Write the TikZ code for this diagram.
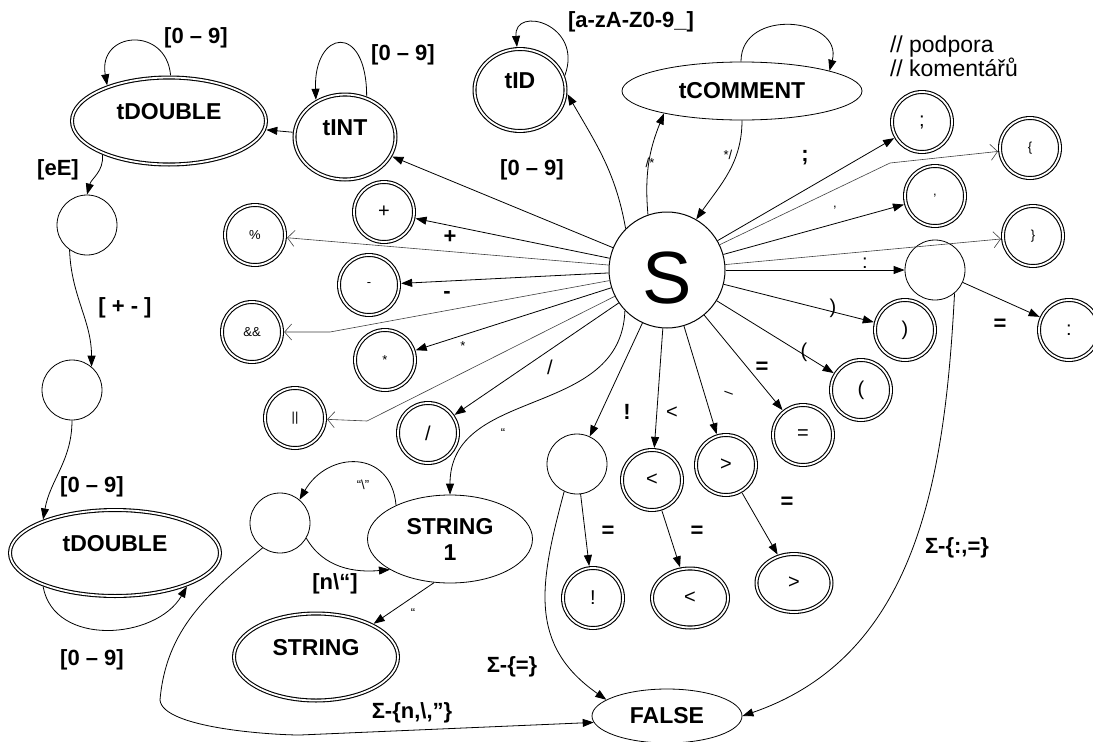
\documentclass[tikz,border=0pt]{standalone}
\usepackage{fontspec}
\setmainfont{Liberation Sans}
\usetikzlibrary{arrows.meta,shapes.geometric}
\newcommand\fstate{\fontsize{23}{26}\selectfont\bfseries}
\newcommand\flab{\fontsize{22}{25}\selectfont\bfseries}
\newcommand\fsym{\fontsize{20}{22}\selectfont}
\newcommand\fsmall{\fontsize{13}{15}\selectfont}
\newcommand\fcmt{\fontsize{23}{23}\selectfont}
\begin{document}
\begin{tikzpicture}[x=1pt,y=1pt,
  every node/.style={inner sep=0pt,outer sep=0pt},
  dst/.style={draw,double,double distance=1.8pt,line width=1.1pt,outer sep=2.2pt},
  dcirc/.style={dst,circle,minimum size=60pt,font=\fsym},
  dell/.style={dst,ellipse,font=\fstate},
  pcirc/.style={draw,circle,line width=0.8pt,minimum size=60pt,outer sep=0.4pt},
  pell/.style={draw,ellipse,line width=0.8pt,outer sep=0.4pt,font=\fstate},
  upper/.style={text height=17pt,text depth=20.4pt},
  arr/.style={line width=0.8pt,-{Triangle[length=11pt,width=8pt]}},
  oarr/.style={line width=0.6pt,draw=black!75,-{Straight Barb[length=7pt,width=16pt,line width=0.6pt]}},
  lab/.style={font=\flab},
  sym/.style={font=\fsym},
  sml/.style={font=\fsmall},
]
\useasboundingbox (0,0) rectangle (1093,-742);
\fill[white] (0,0) rectangle (1093,-742);
\clip (0,0) rectangle (1093,-742);

% ---------- states ----------
\node[draw,circle,line width=1pt,minimum size=116pt,outer sep=0.5pt,
      font=\fontsize{74}{80}\selectfont,text height=67pt,text depth=0pt] (S) at (667,-270) {S};
\node[dell,minimum width=194pt,minimum height=87pt,upper] (dbl1) at (169,-121) {tDOUBLE};
\node[dell,minimum width=101pt,minimum height=85pt,upper] (tint) at (345,-137) {tINT};
\node[dell,minimum width=91pt,minimum height=82pt,upper] (tid) at (520,-90) {tID};
\node[pell,minimum width=240pt,minimum height=58pt] (tcom) at (742,-91) {tCOMMENT};
\node[dell,minimum width=210pt,minimum height=86pt,upper] (dbl2) at (115,-553) {tDOUBLE};
\node[pell,minimum width=165pt,minimum height=88pt,align=center] (str1) at (450,-539) {STRING\\1};
\node[dell,minimum width=164pt,minimum height=87pt,upper] (str) at (316,-657) {STRING};
\node[pell,minimum width=150pt,minimum height=54pt] (false) at (667,-716) {FALSE};

\node[pcirc] (q1) at (87,-225) {};
\node[pcirc] (q2) at (72,-390) {};
\node[pcirc] (strq) at (280,-523) {};
\node[pcirc] (colq) at (935,-270) {};
\node[pcirc] (exq) at (577,-464) {};

\node[dcirc] (plus) at (384,-212) {+};
\node[dcirc,font=\fsmall] (pct) at (255,-235) {\%};
\node[dcirc,font=\fsmall] (minus) at (369,-285) {-};
\node[dcirc,font=\fsmall] (and) at (252,-332) {\&\&};
\node[dcirc,font=\fsmall] (star) at (385,-360) {*};
\node[dcirc,font=\fsmall] (or) at (295,-418) {||};
\node[dcirc] (slash) at (428,-433) {/};
\node[dcirc] (semi) at (922,-122) {;};
\node[dcirc,font=\fsmall] (lbrace) at (1030,-148) {\{};
\node[dcirc,font=\fsmall] (comma) at (935,-196) {,};
\node[dcirc,font=\fsmall] (rbrace) at (1033,-236) {\}};
\node[dcirc] (rpar) at (905,-330) {)};
\node[dcirc] (lpar) at (861,-390) {(};
\node[dcirc] (colon) at (1069,-330) {:};
\node[dcirc] (eq) at (803,-435) {=};
\node[dcirc] (gt) at (726,-465) {>};
\node[dcirc] (lt) at (652,-480) {<};
\node[dcirc] (exf) at (593,-598) {!};
\node[dst,ellipse,minimum width=76pt,minimum height=59pt,font=\fsym] (ltf) at (690,-598) {<};
\node[dst,ellipse,minimum width=75pt,minimum height=58pt,font=\fsym] (gtf) at (794,-583) {>};

\node[font=\fcmt,anchor=base west] (cmt1) at (890,-52) {// podpora};
\node[font=\fcmt,anchor=base west] (cmt2) at (890,-76) {// komentářů};

\coordinate (kand) at (330,-332);
\coordinate (kor) at (367,-421);
\coordinate (kbr) at (890,-163);
\coordinate (kf) at (160,-700);
\coordinate (kg) at (300,-735);

% ---------- edges from S ----------
\draw[arr] (S) -- (tint);
\draw[arr] (S) -- (plus);
\draw[arr] (S) -- (minus);
\draw[arr] (S) -- (star);
\draw[arr] (S) -- (slash);
\draw[arr] (S) -- (exq);
\draw[arr] (S) -- (lt);
\draw[arr] (S) -- (gt);
\draw[arr] (S) -- (eq);
\draw[arr] (S) -- (lpar);
\draw[arr] (S) -- (rpar);
\draw[arr] (S) -- (colq);
\draw[arr] (S) -- (comma);
\draw[arr] (S) -- (semi);
\draw[oarr] (S) -- (pct);
\draw[oarr] (S) -- (kand) -- (and);
\draw[oarr] (S) -- (kor) -- (or);
\draw[oarr] (S) -- (kbr) -- (lbrace);
\draw[oarr] (S) -- (rbrace);
\draw[arr] (S.135) to[out=100,in=-60] (tid.-5);
\draw[arr] (S.109) to[out=95,in=-112] (tcom.196);
\draw[arr] (tcom.south) to[out=-90,in=55] (S.60);
\draw[arr] (S.224) to[out=-92,in=90,looseness=1.1] (str1.north);

% ---------- other edges ----------
\draw[arr] (tint) -- (dbl1);
\draw[arr] (dbl1.88) .. controls +(95:50) and +(100:55) .. (dbl1.150);
\draw[arr] (tint.62) .. controls +(90:75) and +(92:70) .. (tint.128);
\draw[arr] (tid.18) .. controls +(70:55) and +(95:42) .. (tid.94);
\draw[arr] (tcom.92) .. controls +(90:55) and +(75:55) .. (tcom.13);
\draw[arr] (dbl1.207) to[out=-85,in=75] (q1.north);
\draw[arr] (q1.235) to[out=-88,in=90] (q2.50);
\draw[arr] (q2.south) to[out=-90,in=80] (dbl2.155);
\draw[arr] (dbl2.205) to[out=-80,in=-120,looseness=1.1] (dbl2.335);
\draw[arr] (colq) -- (colon);
\draw[arr] (colq.-50) to[out=-93,in=19] (false.east);
\draw[arr] (exq) -- (exf);
\draw[arr] (exq.245) to[out=-105,in=145,looseness=1.15] (false.165);
\draw[arr] (lt) -- (ltf);
\draw[arr] (gt) -- (gtf);
\draw[arr] (str1.148) to[out=95,in=60,looseness=1.5] (strq.50);
\draw[arr] (strq.-30) to[out=-60,in=185] (str1.207);
\draw[arr] (str1.250) -- (str.30);
\draw[arr] (strq.235) to[out=220,in=85] (kf) to[out=-85,in=180,looseness=0.5] (kg) -- (false.185);

% ---------- labels ----------
\node[lab] (l1) at (196,-38) {[0 – 9]};
\node[lab] (l2) at (58,-170) {[eE]};
\node[lab] (l3) at (125,-308) {[ + - ]};
\node[lab] (l4) at (92,-487) {[0 – 9]};
\node[lab] (l5) at (92,-660) {[0 – 9]};
\node[lab] (l6) at (403,-55) {[0 – 9]};
\node[lab] (l7) at (532,-170) {[0 – 9]};
\node[lab] (l8) at (631,-22) {[a-zA-Z0-9\_]};
\node[sml] (l9) at (650,-163) {/*};
\node[sml] (l10) at (728,-155) {*/};
\node[lab] (l11) at (805,-158) {;};
\node[sml] (l12) at (835,-208) {,};
\node[sym] (l13) at (865,-263) {:};
\node[sym] (l14) at (833,-308) {)};
\node[sym] (l15) at (804,-352) {(};
\node[lab] (l16) at (762,-368) {=};
\node[font=\fontsize{16}{18}\selectfont,rotate=-20] (l17) at (728,-395) {–};
\node[sym] (l18) at (672,-413) {<};
\node[lab] (l19) at (627,-412) {!};
\node[sym] (l20) at (550,-367) {/};
\node[sml] (l21) at (503,-433) {“};
\node[sml] (l22) at (463,-346) {*};
\node[lab] (l23) at (447,-295) {-};
\node[lab] (l24) at (450,-237) {+};
\node[lab] (l25) at (1000,-325) {=};
\node[lab] (l26) at (957,-548) {Σ-\{:,=\}};
\node[lab] (l27) at (608,-532) {=};
\node[lab] (l28) at (697,-532) {=};
\node[lab] (l29) at (787,-503) {=};
\node[lab] (l30) at (512,-667) {Σ-\{=\}};
\node[lab] (l31) at (412,-713) {Σ-\{n,\textbackslash,”\}};
\node[lab] (l32) at (335,-584) {[n\textbackslash“]};
\node[sml] (l33) at (413,-613) {“};
\node[sml] (l34) at (363,-485) {“\textbackslash”};
\end{tikzpicture}
\end{document}
